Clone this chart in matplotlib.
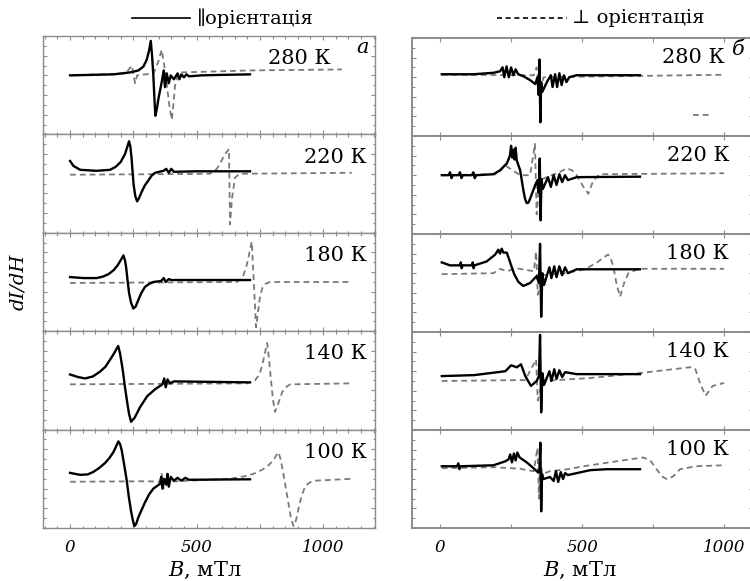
"""
 EPR spectra, two orientations, five temperatures
"""
import matplotlib
matplotlib.use('Agg')
import matplotlib.pyplot as plt
from matplotlib.lines import Line2D
from matplotlib.ticker import MultipleLocator, FuncFormatter

plt.rcParams['font.family'] = ['DejaVu Serif', 'DejaVu Sans']
plt.rcParams['mathtext.fontset'] = 'dejavuserif'

TEMPS = ['280 К', '220 К', '180 К', '140 К', '100 К']
XTICK_LABELS = [0, 500, 1000]

# (B, mT ; relative signal inside panel 0..1)
# column a
a280_par = [(0, .60), (171, .61), (237, .63), (270, .65), (290, .69), (303, .76), (312, .85),
            (319, .95), (324, .80), (329, .60), (333, .38), (337, .19), (343, .26), (349, .36),
            (362, .53), (370, .65), (375, .48), (382, .62), (390, .52), (398, .60), (410, .56),
            (425, .62), (432, .56), (440, .61), (450, .58), (460, .61), (470, .59), (520, .60),
            (600, .605), (711, .61)]
a280_perp = [(0, .60), (220, .62), (244, .70), (257, .52), (265, .60), (330, .62), (350, .75),
             (362, .86), (372, .70), (380, .55), (392, .30), (402, .15), (410, .35), (415, .50),
             (425, .60), (440, .63), (711, .65), (1074, .66)]
a220_par = [(0, .73), (13, .68), (40, .64), (105, .63), (158, .64), (180, .67), (200, .72),
            (217, .80), (227, .88), (233, .93), (238, .88), (243, .76), (247, .62), (251, .49),
            (258, .37), (265, .32), (272, .35), (282, .41), (295, .48), (309, .53), (322, .58),
            (336, .61), (369, .63), (380, .65), (390, .61), (400, .65), (410, .62), (500, .625),
            (711, .625)]
a220_perp = [(0, .59), (300, .595), (553, .60), (580, .65), (600, .74), (612, .80), (628, .85),
             (632, .085), (640, .35), (652, .56), (665, .59), (680, .60), (1113, .61)]
a180_par = [(0, .55), (53, .54), (105, .54), (130, .555), (152, .58), (172, .62), (188, .67),
            (202, .73), (211, .77), (217, .72), (222, .64), (227, .52), (233, .39), (241, .29),
            (250, .23), (259, .25), (270, .32), (282, .39), (296, .45), (312, .48), (329, .50),
            (360, .51), (370, .54), (378, .50), (390, .53), (400, .52), (711, .52)]
a180_perp = [(0, .49), (659, .50), (675, .53), (685, .57), (697, .66), (705, .75), (712, .84),
             (718, .91), (725, .55), (735, .04), (742, .18), (751, .36), (760, .44), (771, .48),
             (790, .50), (1113, .50)]
a140_par = [(0, .56), (30, .535), (59, .52), (90, .54), (119, .59), (140, .64), (158, .71),
            (175, .78), (190, .85), (197, .78), (203, .69), (209, .59), (217, .43), (225, .29),
            (233, .16), (241, .08), (255, .12), (277, .23), (305, .34), (336, .41), (365, .46),
            (372, .52), (378, .43), (385, .51), (395, .47), (410, .49), (711, .48)]
a140_perp = [(0, .46), (700, .47), (731, .50), (748, .56), (759, .65), (770, .78), (779, .88),
             (786, .72), (794, .50), (802, .30), (810, .18), (822, .26), (838, .38), (852, .43),
             (870, .46), (1113, .47)]
a100_par = [(0, .56), (40, .54), (70, .545), (92, .57), (115, .61), (138, .66), (155, .71),
            (171, .77), (182, .83), (191, .88), (198, .85), (204, .79), (214, .64), (224, .48),
            (232, .32), (241, .17), (248, .08), (254, .02), (261, .04), (270, .11), (282, .18),
            (296, .26), (312, .34), (329, .40), (356, .45), (360, .52), (365, .40), (372, .50),
            (380, .44), (385, .55), (390, .42), (398, .52), (410, .48), (425, .51), (440, .48),
            (455, .51), (470, .49), (711, .495)]
a100_perp = [(0, .47), (300, .475), (355, .47), (362, .55), (370, .40), (380, .47), (632, .50),
             (698, .53), (735, .56), (764, .60), (785, .64), (804, .69), (815, .74), (823, .77),
             (832, .70), (843, .55), (853, .40), (863, .25), (873, .10), (883, .02), (893, .08),
             (903, .20), (915, .33), (929, .42), (945, .46), (962, .48), (1113, .50)]

# column б
b280_par = [(6, .63), (117, .63), (188, .645), (211, .66), (220, .70), (226, .60), (234, .71),
            (242, .60), (250, .70), (258, .62), (266, .68), (275, .63), (293, .61), (317, .57),
            (335, .53), (343, .60), (347, .42), (350, .78), (353, .14), (356, .55), (360, .45),
            (376, .55), (390, .62), (396, .50), (405, .63), (412, .50), (420, .64), (428, .52),
            (436, .62), (445, .55), (455, .60), (481, .62), (704, .62)]
b280_perp = [(6, .625), (330, .62), (340, .70), (350, .45), (365, .60), (1000, .625)]
b280_stray = [(890, .21), (950, .21)]
b220_par = [(6, .60), (30, .60), (35, .63), (40, .57), (45, .60), (65, .60), (70, .63), (75, .57),
            (80, .60), (112, .60), (117, .63), (122, .57), (127, .60), (188, .61), (211, .65),
            (235, .72), (246, .80), (250, .90), (254, .78), (258, .86), (262, .76), (266, .88),
            (270, .75), (282, .65), (293, .45), (299, .36), (305, .315), (311, .32), (317, .36),
            (326, .43), (335, .50), (343, .55), (347, .42), (351, .77), (354, .14), (357, .56),
            (362, .46), (380, .58), (390, .48), (400, .60), (410, .50), (420, .61), (430, .53),
            (440, .60), (450, .55), (481, .58), (704, .585)]
b220_perp = [(6, .60), (200, .61), (229, .70), (282, .60), (317, .60), (334, .92), (340, .20),
             (350, .55), (376, .58), (420, .63), (446, .67), (465, .65), (481, .60), (505, .48),
             (522, .41), (540, .55), (563, .61), (1000, .62)]
b180_par = [(6, .71), (35, .68), (70, .68), (73, .71), (76, .65), (79, .68), (112, .68), (115, .71),
            (118, .65), (121, .68), (164, .72), (194, .79), (205, .84), (211, .80), (217, .85),
            (223, .81), (235, .81), (249, .69), (261, .59), (276, .51), (293, .47), (317, .50),
            (340, .57), (348, .50), (352, .90), (356, .155), (360, .60), (366, .48), (385, .66),
            (392, .55), (402, .67), (410, .56), (420, .67), (430, .58), (440, .66), (450, .60),
            (481, .64), (704, .64)]
b180_perp = [(6, .59), (188, .60), (211, .645), (235, .62), (270, .65), (330, .62), (338, .82),
             (344, .38), (360, .58), (440, .60), (510, .64), (553, .71), (575, .76), (592, .79),
             (602, .74), (610, .67), (622, .48), (634, .36), (648, .50), (663, .60), (700, .645),
             (1000, .645)]
b140_par = [(6, .55), (120, .56), (230, .60), (250, .66), (270, .64), (285, .67), (300, .55),
            (320, .45), (340, .50), (348, .55), (352, .97), (356, .18), (360, .58), (366, .46),
            (385, .60), (392, .50), (402, .62), (410, .52), (420, .61), (430, .54), (440, .59),
            (481, .57), (704, .57)]
b140_perp = [(6, .50), (300, .51), (338, .72), (344, .30), (360, .50), (528, .53), (700, .58),
             (880, .64), (898, .63), (915, .48), (935, .35), (960, .45), (1000, .48)]
b100_par = [(6, .63), (60, .63), (64, .66), (68, .60), (72, .63), (188, .64), (229, .68), (241, .70),
            (247, .75), (253, .67), (260, .76), (266, .69), (272, .77), (280, .72), (305, .67),
            (329, .61), (346, .565), (350, .60), (353, .87), (356, .17), (359, .55), (364, .50),
            (387, .52), (400, .48), (408, .58), (416, .47), (425, .57), (433, .50), (440, .56),
            (450, .54), (481, .56), (528, .59), (587, .60), (704, .60)]
b100_perp = [(6, .61), (188, .62), (282, .605), (305, .59), (330, .58), (343, .82), (348, .30),
             (352, .70), (360, .55), (387, .58), (450, .60), (505, .63), (620, .68), (715, .72),
             (740, .69), (770, .57), (785, .52), (798, .50), (810, .51), (822, .53), (845, .60),
             (900, .63), (1000, .64)]

COL_A = [(a280_par, a280_perp), (a220_par, a220_perp), (a180_par, a180_perp),
         (a140_par, a140_perp), (a100_par, a100_perp)]
COL_B = [(b280_par, b280_perp), (b220_par, b220_perp), (b180_par, b180_perp),
         (b140_par, b140_perp), (b100_par, b100_perp)]

W, H = 750, 581
GREY = '#8c8c8c'


def draw_curve(ax, pts, **kw):
    """ plots a list of (B, I) points"""
    xs = [p[0] for p in pts]
    ys = [p[1] for p in pts]
    ax.plot(xs, ys, **kw)


def style_axes(ax, xlim, minor_x, bottom, spine_lw):
    """ ticks and frame of one panel"""
    ax.set_xlim(*xlim)
    ax.set_ylim(0, 1)
    ax.xaxis.set_major_locator(MultipleLocator(250))
    if minor_x:
        ax.xaxis.set_minor_locator(MultipleLocator(50))
    ax.yaxis.set_major_locator(MultipleLocator(0.2))
    ax.yaxis.set_minor_locator(MultipleLocator(0.1))
    ax.tick_params(which='both', direction='in', top=True, right=True, colors=GREY,
                   labelleft=False, labelbottom=bottom, width=0.8)
    ax.tick_params(which='major', length=3)
    ax.tick_params(which='minor', length=1.8)
    ax.tick_params(axis='x', labelcolor='black', labelsize=12, pad=8)
    ax.xaxis.set_major_formatter(
        FuncFormatter(lambda v, p: '%d' % v if int(round(v)) in XTICK_LABELS else ''))
    for sp in ax.spines.values():
        sp.set_color(GREY)
        sp.set_linewidth(spine_lw)


fig = plt.figure(figsize=(W / 100, H / 100), dpi=100)

columns = [
    dict(data=COL_A, x0=43, x1=375, top=36, xlim=(-107, 1205), minor=True, lw=1.0,
         tx=0.975, ty=0.77, first_tx=0.865, letter='а', lx=0.962),
    dict(data=COL_B, x0=412, x1=753, top=38, xlim=(-99, 1102), minor=False, lw=1.4,
         tx=0.93, ty=0.80, first_tx=0.918, letter='б', lx=0.958),
]
bottom_px = 528

for ci, col in enumerate(columns):
    ph = (bottom_px - col['top']) / 5.0
    for i, (par, perp) in enumerate(col['data']):
        top = col['top'] + i * ph
        ax = fig.add_axes([col['x0'] / W, 1 - (top + ph) / H,
                           (col['x1'] - col['x0']) / W, ph / H])
        draw_curve(ax, perp, color='#7a7a7a', lw=1.3, ls=(0, (3.2, 2.2)))
        if ci == 1 and i == 0:
            draw_curve(ax, b280_stray, color='#7a7a7a', lw=1.3, ls=(0, (3.2, 2.2)))
        draw_curve(ax, par, color='black', lw=1.7, solid_joinstyle='round')
        style_axes(ax, col['xlim'], col['minor'], i == 4, col['lw'])
        for lab in ax.get_xticklabels():
            lab.set_fontstyle('italic')
        tx = col['first_tx'] if i == 0 else col['tx']
        ax.text(tx, col['ty'], TEMPS[i], transform=ax.transAxes, ha='right', va='center',
                fontsize=15)
        if i == 0:
            ax.text(col['lx'], 0.88, col['letter'], transform=ax.transAxes, ha='center',
                    va='center', fontsize=15, style='italic')

# header legend
yl = 1 - 18 / H
fig.add_artist(Line2D([132 / W, 190 / W], [yl, yl], color='black', lw=1.2))
fig.text(197 / W, yl, '\u2225орієнтація', ha='left', va='center', fontsize=14)
fig.add_artist(Line2D([497 / W, 567 / W], [yl, yl], color='black', lw=1.2,
                      ls=(0, (3, 2.2))))
fig.text(572 / W, yl, '\u22a5 орієнтація', ha='left', va='center', fontsize=14)

fig.text(18 / W, 1 - 282 / H, 'dI/dH', rotation=90, ha='center', va='center',
         fontsize=14, style='italic')
fig.text(205 / W, 1 - 570 / H, r'$B$, мТл', ha='center', va='center', fontsize=15)
fig.text(580 / W, 1 - 570 / H, r'$B$, мТл', ha='center', va='center', fontsize=15)

fig.savefig('out.png', dpi=100)
